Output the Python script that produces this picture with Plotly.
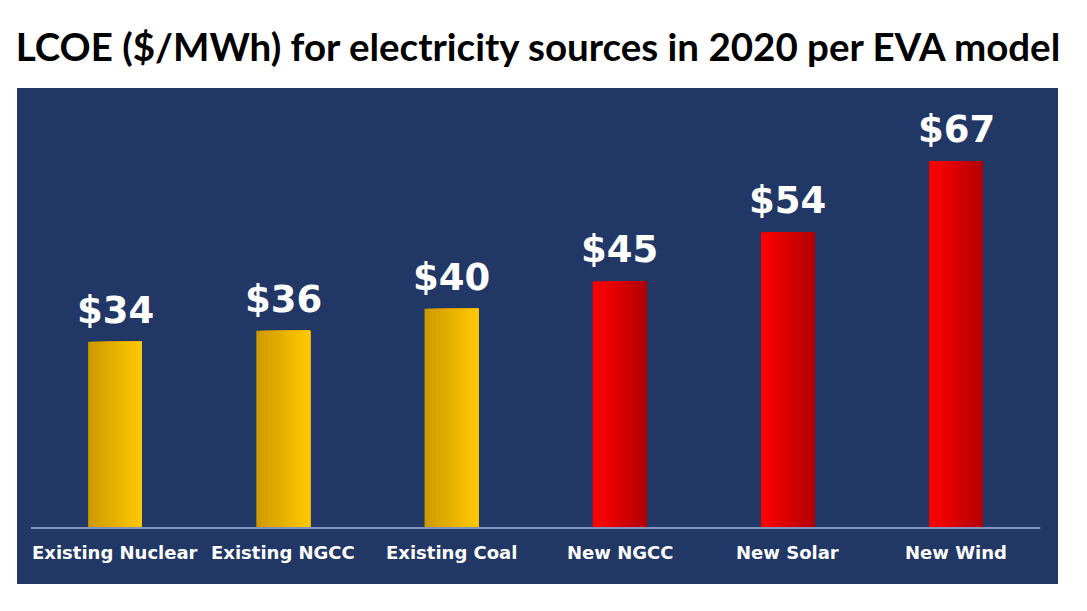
import plotly.graph_objects as go

# ---- data ----
categories = ["Existing Nuclear", "Existing NGCC", "Existing Coal", "New NGCC", "New Solar", "New Wind"]
lcoe = [34, 36, 40, 45, 54, 67]
value_labels = ["$34", "$36", "$40", "$45", "$54", "$67"]
groups = ["existing", "existing", "existing", "new", "new", "new"]
title_text = "LCOE ($/MWh) for electricity sources in 2020 per EVA model"

# ---- style ----
gradients = {"existing": ("#CF9A00", "#FFC800"), "new": ("#FF0000", "#B40000")}
panel_color = "#213866"
bar_width = 0.32
n_slices = 14


def mix(c1, c2, t):
    a = [int(c1[i:i + 2], 16) for i in (1, 3, 5)]
    b = [int(c2[i:i + 2], 16) for i in (1, 3, 5)]
    return "#" + "".join(f"{round(x + (y - x) * t):02X}" for x, y in zip(a, b))


fig = go.Figure()
for k in range(n_slices):
    t = k / (n_slices - 1)
    colors = [mix(*gradients[g], t) for g in groups]
    start = -bar_width / 2 + k * bar_width / n_slices
    fig.add_bar(
        x=categories, y=lcoe,
        width=bar_width - k * bar_width / n_slices,
        offset=start,
        marker=dict(color=colors, line=dict(width=0)),
        showlegend=False, hoverinfo="skip" if k else "x+y",
    )

annotations = []
for c, v, lab in zip(categories, lcoe, value_labels):
    annotations.append(dict(
        x=c, y=v, xref="x", yref="y", text=lab, showarrow=False,
        yanchor="bottom", yshift=8,
        font=dict(family="DejaVu Sans", size=37, color="white", weight="bold"),
    ))
    annotations.append(dict(
        x=c, y=0, xref="x", yref="y", text=c, showarrow=False,
        yanchor="middle", yshift=-24,
        font=dict(family="DejaVu Sans", size=18, color="white", weight="bold"),
    ))

W, H = 1071, 595  # page body adds an 8px margin on each side
fig.update_layout(
    width=W, height=H,
    margin=dict(l=9, r=21, t=80, b=19),
    paper_bgcolor="white", plot_bgcolor=panel_color,
    barmode="overlay",
    title=dict(
        text=title_text, x=530 / W, xanchor="center",
        y=1 - 40 / H, yanchor="middle", yref="container",
        font=dict(family="Lato, sans-serif", size=38.5, color="black", weight="bold"),
    ),
    xaxis=dict(type="category", range=[-0.583, 5.606], showticklabels=False,
               showgrid=False, zeroline=False, showline=False, ticks=""),
    yaxis=dict(range=[-10.2, 80.3], showticklabels=False, showgrid=False,
               zeroline=False, showline=False, ticks=""),
    annotations=annotations,
    shapes=[dict(type="line", xref="x", yref="y", x0=-0.5, x1=5.5, y0=0, y1=0,
                 line=dict(color="#8294BE", width=2))],
)

fig.write_html("out.html")
